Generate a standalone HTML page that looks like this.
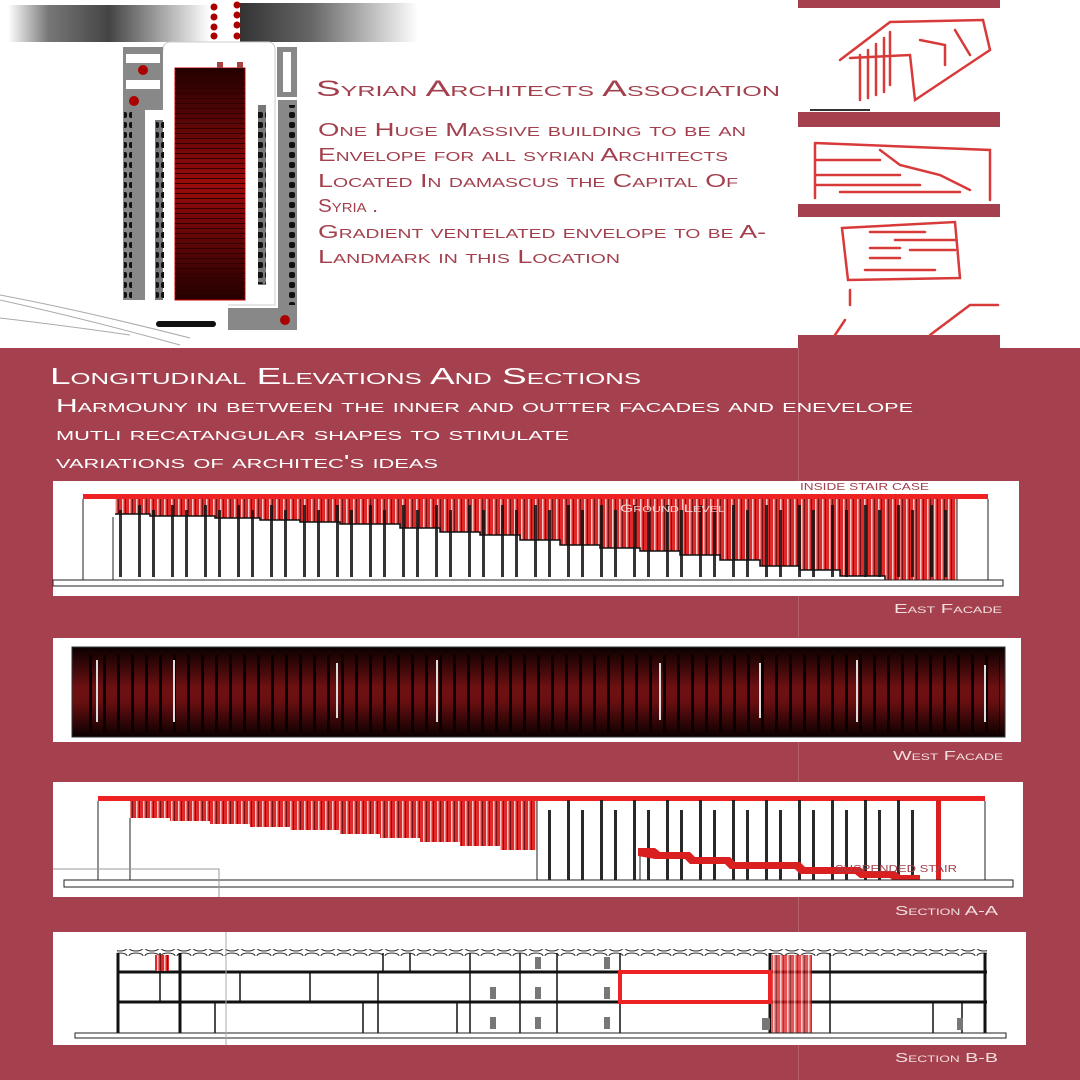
<!DOCTYPE html>
<html><head><meta charset="utf-8"><style>
html,body{margin:0;padding:0;background:#fff}
svg{display:block}
text{font-family:"Liberation Sans",sans-serif;font-variant:small-caps}
</style></head><body>
<svg width="1080" height="1080" viewBox="0 0 1080 1080" xmlns="http://www.w3.org/2000/svg">
<defs>
<linearGradient id="gl" x1="0" x2="1"><stop offset="0" stop-color="#fff"/><stop offset=".2" stop-color="#777"/><stop offset=".5" stop-color="#444"/><stop offset="1" stop-color="#fff"/></linearGradient>
<linearGradient id="gr" x1="0" x2="1"><stop offset="0" stop-color="#333"/><stop offset=".4" stop-color="#666"/><stop offset="1" stop-color="#fff"/></linearGradient>
<linearGradient id="wf" x1="0" y1="0" x2="0" y2="1"><stop offset="0" stop-color="#0a0000"/><stop offset=".45" stop-color="#6e1012"/><stop offset=".6" stop-color="#6a0f11"/><stop offset="1" stop-color="#0a0000"/></linearGradient>
<linearGradient id="bd" x1="0" y1="0" x2="0" y2="1"><stop offset="0" stop-color="#200"/><stop offset=".5" stop-color="#9a0c0c"/><stop offset="1" stop-color="#200"/></linearGradient>
<pattern id="st" width="7" height="10" patternUnits="userSpaceOnUse"><rect width="7" height="10" fill="#de2a2a"/><rect x="3" width="1.5" height="10" fill="#f6c8c8"/><rect x="6" width="1" height="10" fill="#7a1010"/></pattern>
<pattern id="mul" width="33" height="100" patternUnits="userSpaceOnUse"><rect x="6" y="0" width="3" height="100" fill="#111"/><rect x="20" y="10" width="3" height="90" fill="#111"/></pattern>
<pattern id="wm" width="14" height="100" patternUnits="userSpaceOnUse"><rect x="5" width="3" height="100" fill="#0a0000"/></pattern>
<pattern id="hl" width="10" height="5" patternUnits="userSpaceOnUse"><rect y="3" width="10" height="1" fill="#300"/></pattern>
<pattern id="dash" width="16" height="8" patternUnits="userSpaceOnUse"><ellipse cx="8" cy="4" rx="7" ry="3" fill="none" stroke="#333" stroke-width="1"/></pattern>
<pattern id="dots" width="8" height="10" patternUnits="userSpaceOnUse"><rect x="1" y="2" width="6" height="6" rx="2" fill="#111"/></pattern>
</defs>

<rect x="8" y="5" width="202" height="37" fill="url(#gl)"/>
<rect x="240" y="3" width="178" height="39" fill="url(#gr)"/>
<g fill="#a00">
<circle cx="214" cy="7" r="3.5"/><circle cx="214" cy="17" r="3.5"/><circle cx="214" cy="27" r="3.5"/><circle cx="214" cy="36" r="3.5"/>
<circle cx="237" cy="5" r="3.5"/><circle cx="237" cy="15" r="3.5"/><circle cx="237" cy="25" r="3.5"/><circle cx="237" cy="36" r="3.5"/>
</g>
<path d="M163 50 Q163 42 171 42 H268 Q275 42 275 50 V305 H228" fill="none" stroke="#ccc"/>
<path d="M123 47 H163 V110 H145 V300 H123 Z" fill="#888"/>
<rect x="126" y="54" width="34" height="9" fill="#fff"/><rect x="126" y="80" width="34" height="9" fill="#fff"/>
<circle cx="143" cy="70" r="5" fill="#a00"/><circle cx="134" cy="101" r="5" fill="#a00"/>
<rect x="155" y="120" width="8" height="180" fill="#777"/>
<rect x="277" y="47" width="20" height="50" fill="#888"/><rect x="283" y="52" width="8" height="40" fill="#fff"/>
<path d="M278 100 H297 V330 H228 V308 H278 Z" fill="#888"/>
<circle cx="285" cy="320" r="5" fill="#a00"/>
<rect x="258" y="105" width="8" height="180" fill="#777"/>
<rect x="124" y="108" width="8" height="190" fill="url(#dots)"/>
<rect x="156" y="120" width="8" height="180" fill="url(#dots)"/>
<rect x="258" y="112" width="8" height="172" fill="url(#dots)"/>
<rect x="289" y="105" width="8" height="200" fill="url(#dots)"/>
<rect x="156" y="321" width="60" height="6" rx="3" fill="#111"/>
<rect x="175" y="68" width="70" height="232" fill="url(#bd)" stroke="#c00"/>
<rect x="175" y="68" width="70" height="232" fill="url(#hl)"/>
<rect x="217" y="62" width="6" height="6" fill="#a44"/><rect x="237" y="62" width="6" height="6" fill="#a44"/>
<path d="M0 295 Q80 310 190 338 M0 300 Q90 320 180 345 M0 318 Q60 325 130 335" fill="none" stroke="#aaa"/>

<g fill="#a3404e">
<text x="316" y="96" font-size="22" textLength="464" lengthAdjust="spacingAndGlyphs">Syrian Architects Association</text>
<g font-size="18">
<text x="318" y="136" textLength="428" lengthAdjust="spacingAndGlyphs">One  Huge Massive building to be an</text>
<text x="318" y="161" textLength="410" lengthAdjust="spacingAndGlyphs">Envelope for all syrian Architects</text>
<text x="318" y="187" textLength="420" lengthAdjust="spacingAndGlyphs">Located In damascus the Capital Of</text>
<text x="318" y="212" textLength="60" lengthAdjust="spacingAndGlyphs">Syria .</text>
<text x="318" y="238" textLength="448" lengthAdjust="spacingAndGlyphs">Gradient ventelated envelope to be A-</text>
<text x="318" y="263" textLength="302" lengthAdjust="spacingAndGlyphs">Landmark in this Location</text>
</g></g>

<rect x="798" y="0" width="202" height="8" fill="#a5414e"/>
<rect x="798" y="112" width="202" height="15" fill="#a5414e"/>
<rect x="798" y="204" width="202" height="13" fill="#a5414e"/>
<rect x="798" y="335" width="202" height="13" fill="#a5414e"/>
<g fill="none" stroke="#d83a3a" stroke-width="2.5" stroke-linecap="round">
<path d="M840 60 L890 22 L983 20 L990 50 L915 100 L910 55 L850 58"/>
<path d="M860 55 V100 M868 50 V98 M876 44 V95 M884 38 V92 M890 32 V85 M920 40 L945 45 V65 M955 30 L970 55"/>
<path d="M815 143 L990 150 V200 M815 143 V198 M815 160 H880 M815 175 H900 M815 185 H920 M840 192 H960 M880 150 L900 165 L940 175 L970 190"/>
<path d="M842 228 L955 222 L960 278 L848 280 Z M870 232 H925 M895 240 H955 M870 248 H900 M910 250 H955 M870 258 H900 M865 270 H935"/>
<path d="M850 290 V305 M930 335 L970 305 H998 M835 335 L845 320"/>
</g>
<path d="M810 110 H870" stroke="#333" stroke-width="2"/>

<rect x="0" y="348" width="1080" height="732" fill="#a5414e"/>
<line x1="798.5" y1="348" x2="798.5" y2="1080" stroke="#b5606b"/>
<g fill="#fff">
<text x="50" y="384" font-size="23" textLength="591" lengthAdjust="spacingAndGlyphs">Longitudinal Elevations And Sections</text>
<g font-size="18">
<text x="56" y="412" textLength="857" lengthAdjust="spacingAndGlyphs">Harmouny in between the inner and outter facades and enevelope</text>
<text x="56" y="440" textLength="513" lengthAdjust="spacingAndGlyphs">mutli recatangular shapes to stimulate</text>
<text x="56" y="468" textLength="382" lengthAdjust="spacingAndGlyphs">variations of architec's ideas</text>
</g></g>
<g fill="#f2dede" font-size="13">
<text x="894" y="613" textLength="108" lengthAdjust="spacingAndGlyphs">East Facade</text>
<text x="893" y="760" textLength="110" lengthAdjust="spacingAndGlyphs">West Facade</text>
<text x="895" y="915" textLength="103" lengthAdjust="spacingAndGlyphs">Section A-A</text>
<text x="895" y="1062" textLength="103" lengthAdjust="spacingAndGlyphs">Section B-B</text>
</g>

<rect x="53" y="481" width="966" height="115" fill="#fff"/>
<polygon points="115,499 957,499 957,580 885,580 885,576 840,576 840,570 800,570 800,566 760,566 760,560 720,560 720,555 680,555 680,551 640,551 640,548 600,548 600,545 560,545 560,540 520,540 520,535 480,535 480,532 440,532 440,528 400,528 400,524 340,524 340,522 300,522 300,520 260,520 260,518 215,518 215,516 150,516 150,514 115,514" fill="url(#st)"/>
<polyline points="115,514 150,514 150,516 215,516 215,518 260,518 260,520 300,520 300,522 340,522 340,524 400,524 400,528 440,528 440,532 480,532 480,535 520,535 520,540 560,540 560,545 600,545 600,548 640,548 640,551 680,551 680,555 720,555 720,560 760,560 760,566 800,566 800,570 840,570 840,576 885,576 885,580" fill="none" stroke="#111" stroke-width="1.5"/>
<rect x="115" y="505" width="840" height="72" fill="url(#mul)" opacity=".85"/>
<rect x="83" y="494" width="905" height="5" fill="#e22"/>
<path d="M83 499 V580 M113 517 V580 M957 499 V580 M988 499 V580" stroke="#222" fill="none"/>
<rect x="53" y="580" width="950" height="6" fill="#fff" stroke="#222"/>
<text x="800" y="490" font-size="10" fill="#a3404e" textLength="129" lengthAdjust="spacingAndGlyphs">INSIDE STAIR CASE</text>
<text x="620" y="512" font-size="11" fill="#f5d0d0" textLength="105" lengthAdjust="spacingAndGlyphs">Ground Level</text>

<rect x="53" y="638" width="968" height="104" fill="#fff"/>
<rect x="72" y="647" width="933" height="90" fill="url(#wf)" stroke="#333"/>
<rect x="80" y="655" width="920" height="77" fill="url(#wm)"/>
<g stroke="#ddd" stroke-width="2"><path d="M97 660 V722 M174 660 V722 M337 663 V718 M437 660 V722 M660 663 V720 M760 663 V718 M857 660 V722 M985 665 V722"/></g>

<rect x="53" y="782" width="970" height="115" fill="#fff"/>
<polygon points="130,801 537,801 537,850 500,850 500,846 460,846 460,842 420,842 420,838 380,838 380,834 340,834 340,830 290,830 290,827 250,827 250,824 210,824 210,821 170,821 170,818 130,818" fill="url(#st)"/>
<rect x="98" y="796" width="887" height="5" fill="#e22"/>
<path d="M98 801 V880 M130 818 V880 M537 801 V880 M640 850 V880 M985 801 V880" stroke="#222" fill="none"/>
<rect x="540" y="800" width="390" height="80" fill="url(#mul)" opacity=".9"/>
<polygon points="638,848 655,848 660,852 690,852 695,857 730,857 735,862 800,862 805,867 860,867 865,871 895,871 900,875 920,875 920,882 895,882 890,878 860,878 855,874 800,874 795,869 730,869 725,864 690,864 685,859 655,859 638,856" fill="#d91f1f"/>
<rect x="936" y="800" width="5" height="80" fill="#d91f1f"/>
<rect x="64" y="880" width="949" height="7" fill="#fff" stroke="#222"/>
<path d="M53 869 H219 V897" stroke="#999" fill="none"/>
<text x="835" y="872" font-size="10" fill="#a3404e" textLength="122" lengthAdjust="spacingAndGlyphs">SUSPENDED STAIR</text>

<rect x="53" y="932" width="973" height="113" fill="#fff"/>
<rect x="117" y="949" width="870" height="7" fill="url(#dash)"/>
<g stroke="#111" fill="none">
<path d="M117 972 H987 M117 1002 H987" stroke-width="3"/>
<path d="M118 953 V1033 M180 953 V1033 M985 953 V1033 M770 953 V1033" stroke-width="3"/>
<path d="M240 972 V1002 M310 972 V1002 M378 972 V1002 M215 1002 V1033 M378 1002 V1033 M457 1002 V1033 M383 953 V972 M410 953 V972 M470 953 V1033 M520 953 V1033 M557 953 V1033 M620 953 V1033 M830 953 V1033 M933 1002 V1033 M962 1002 V1033 M160 953 V1002 M363 1002 V1033" stroke-width="1.5"/>
</g>
<rect x="620" y="972" width="150" height="30" fill="#fff" stroke="#e22" stroke-width="4"/>
<rect x="772" y="955" width="40" height="78" fill="url(#st)" opacity=".8"/>
<rect x="155" y="955" width="14" height="16" fill="url(#st)"/>
<g fill="#777"><rect x="535" y="957" width="6" height="12"/><rect x="535" y="987" width="6" height="12"/><rect x="535" y="1017" width="6" height="12"/><rect x="490" y="987" width="6" height="12"/><rect x="490" y="1017" width="6" height="12"/><rect x="604" y="957" width="6" height="12"/><rect x="604" y="987" width="6" height="12"/><rect x="604" y="1017" width="6" height="12"/><rect x="762" y="1018" width="8" height="12"/><rect x="957" y="1018" width="6" height="12"/></g>
<rect x="75" y="1033" width="931" height="5" fill="#fff" stroke="#222"/>
<line x1="226" y1="932" x2="226" y2="1045" stroke="#aaa"/>
</svg>
</body></html>
